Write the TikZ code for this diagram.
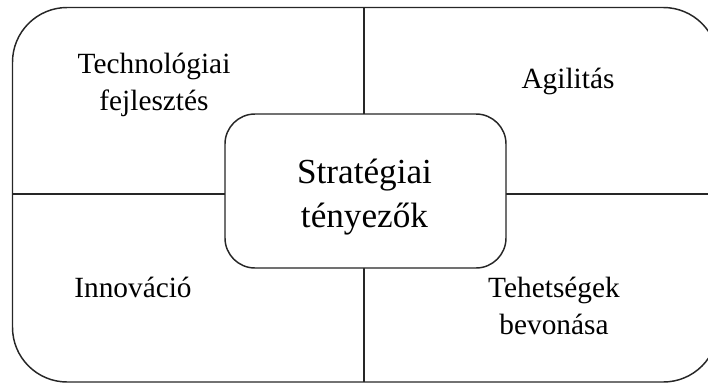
\documentclass[tikz,border=0pt]{standalone}
\usepackage{fontspec}
\setmainfont{Liberation Serif}
\newcommand{\twol}[2]{\begin{tabular}[t]{@{}c@{}}#1\\#2\end{tabular}}
\begin{document}
\begin{tikzpicture}[x=0.75pt,y=-0.75pt,
  frame/.style={draw=black!85,line width=1.1pt},
  lbl/.style={font=\fontsize{22pt}{28pt}\selectfont,inner sep=0pt,anchor=base},
  core/.style={frame,fill=white,rounded corners=22.5pt,minimum width=210.75pt,minimum height=115.5pt,inner sep=0pt},
  coretext/.style={font=\fontsize{26.4pt}{33pt}\selectfont,inner sep=0pt,anchor=base}]
\useasboundingbox (0,0) rectangle (708,383);
\clip (0,0) rectangle (708,383);
\draw[frame,rounded corners=41pt] (12.5,7.5) rectangle (718,382);
\coordinate (top) at (364,7.5);
\coordinate (bot) at (364,382);
\coordinate (lft) at (12.5,194);
\coordinate (rgt) at (718,194);
\draw[frame] (top) -- (bot);
\draw[frame] (lft) -- (rgt);
\node[core] (c) at (365.5,191) {};
\node[coretext] (ct) at (364.5,183) {\twol{Stratégiai}{tényezők}};
\node[lbl] (tl) at (154,73) {\twol{Technológiai}{fejlesztés}};
\node[lbl] (tr) at (568,88) {Agilitás};
\node[lbl] (bl) at (133,297) {Innováció};
\node[lbl] (br) at (554,297) {\twol{Tehetségek}{bevonása}};
\end{tikzpicture}
\end{document}
